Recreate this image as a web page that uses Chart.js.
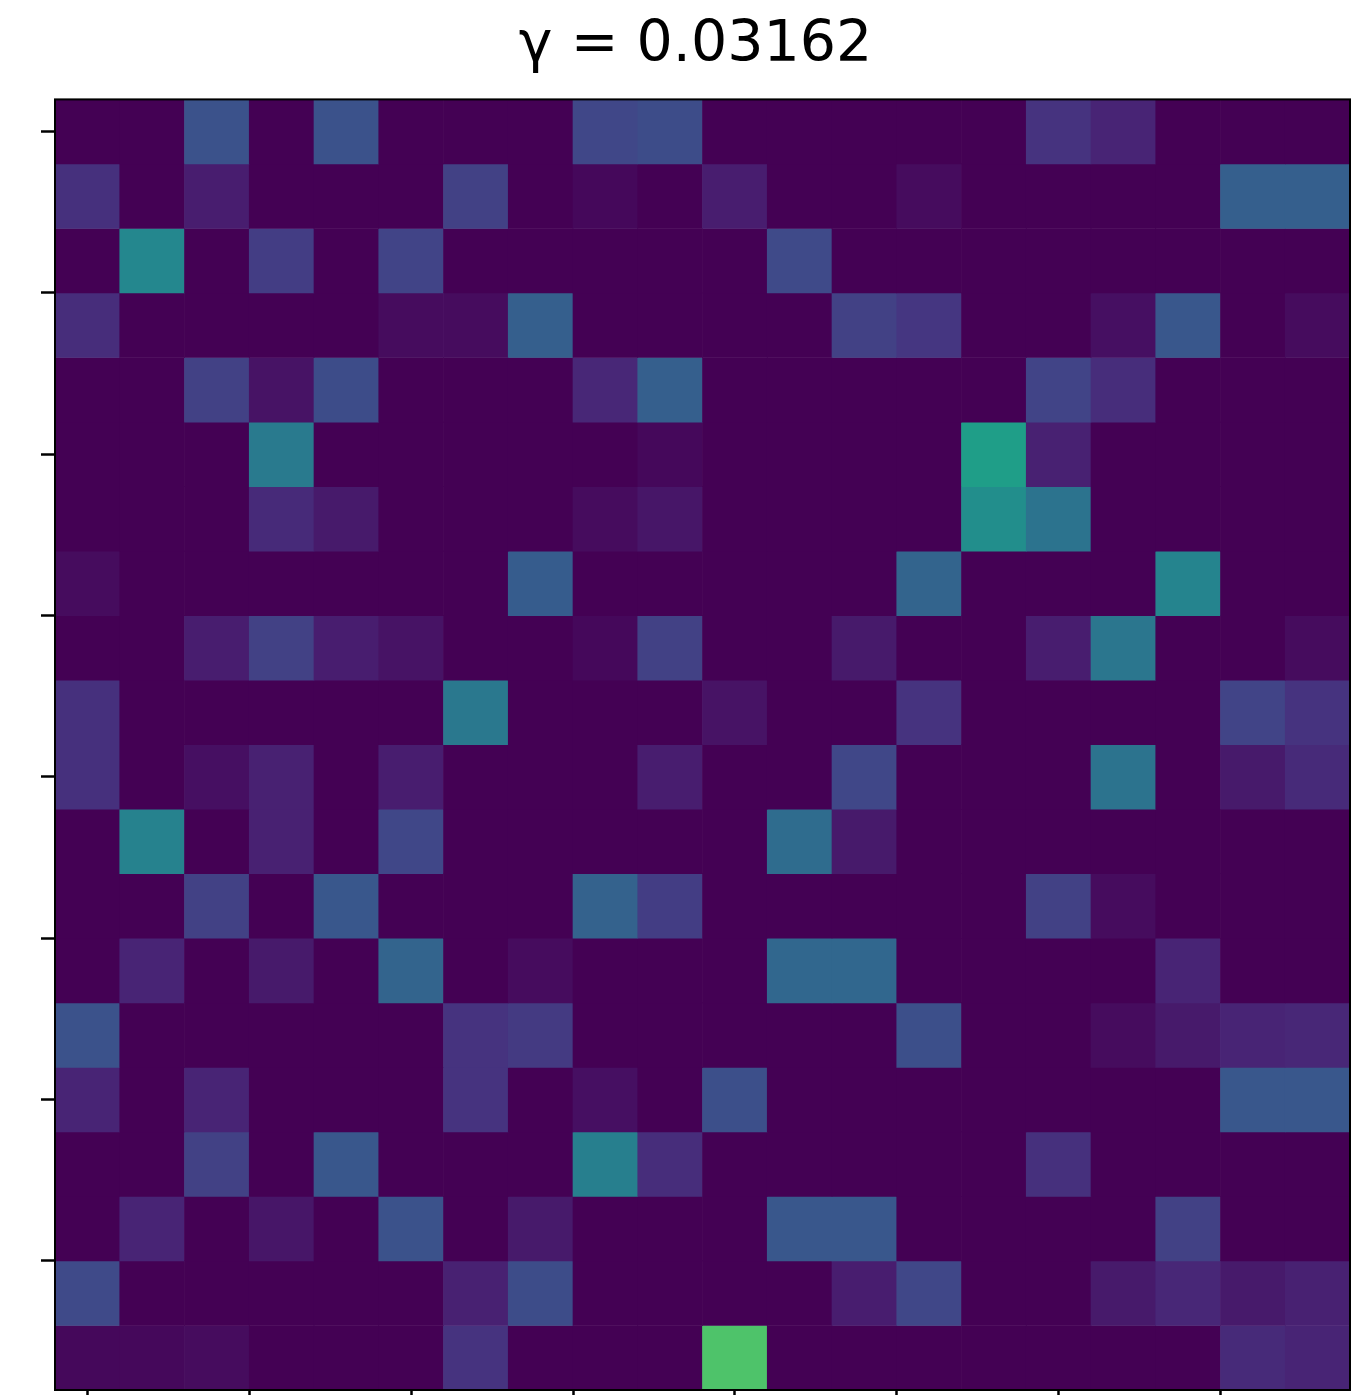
<!DOCTYPE html>
<html>
<head>
<meta charset="utf-8">
<script src="https://cdn.jsdelivr.net/npm/chart.js@4"></script>
<style>
  html, body { margin: 0; padding: 0; background: #fff; overflow: hidden; }
</style>
</head>
<body>
<canvas id="heat" width="1367" height="1395"></canvas>
<script>
const gammaLabel = 'γ = 0.03162';

// positions of the tick marks, in cell units (cell centres sit on integers)
const tickPositions = [0, 2.5, 5, 7.5, 10, 12.5, 15, 17.5];

// colour-scale position (0..1) of each cell, one list per row, top row first
const weights = [
    [0, 0, .25, 0, .25, 0, 0, 0, .21, .23, 0, 0, 0, 0, 0, .15, .10, 0, 0, 0],
    [.14, 0, .08, 0, 0, 0, .19, 0, .02, 0, .08, 0, 0, .03, 0, 0, 0, 0, .30, .30],
    [0, .46, 0, .18, 0, .20, 0, 0, 0, 0, 0, .22, 0, 0, 0, 0, 0, 0, 0, 0],
    [.13, 0, 0, 0, 0, .03, .03, .30, 0, 0, 0, 0, .19, .16, 0, 0, .04, .27, 0, .03],
    [0, 0, .19, .05, .23, 0, 0, 0, .11, .30, 0, 0, 0, 0, 0, .20, .13, 0, 0, 0],
    [0, 0, 0, .41, 0, 0, 0, 0, 0, .02, 0, 0, 0, 0, .56, .09, 0, 0, 0, 0],
    [0, 0, 0, .12, .07, 0, 0, 0, .03, .06, 0, 0, 0, 0, .49, .38, 0, 0, 0, 0],
    [.03, 0, 0, 0, 0, 0, 0, .29, 0, 0, 0, 0, 0, .32, 0, 0, 0, .45, 0, 0],
    [0, 0, .08, .19, .08, .05, 0, 0, .02, .19, 0, 0, .07, 0, 0, .08, .39, 0, 0, .03],
    [.14, 0, 0, 0, 0, 0, .40, 0, 0, 0, .05, 0, 0, .15, 0, 0, 0, 0, .20, .15],
    [.14, 0, .04, .09, 0, .08, 0, 0, 0, .08, 0, 0, .21, 0, 0, 0, .38, 0, .07, .12],
    [0, .44, 0, .09, 0, .21, 0, 0, 0, 0, 0, .35, .07, 0, 0, 0, 0, 0, 0, 0],
    [0, 0, .19, 0, .27, 0, 0, 0, .31, .18, 0, 0, 0, 0, 0, .19, .03, 0, 0, 0],
    [0, .10, 0, .07, 0, .32, 0, .03, 0, 0, 0, .33, .33, 0, 0, 0, 0, .10, 0, 0],
    [.25, 0, 0, 0, 0, 0, .15, .17, 0, 0, 0, 0, 0, .24, 0, 0, .03, .07, .10, .11],
    [.10, 0, .10, 0, 0, 0, .15, 0, .04, 0, .24, 0, 0, 0, 0, 0, 0, 0, .27, .27],
    [0, 0, .19, 0, .27, 0, 0, 0, .43, .13, 0, 0, 0, 0, 0, .14, 0, 0, 0, 0],
    [0, .10, 0, .06, 0, .25, 0, .07, 0, 0, 0, .27, .27, 0, 0, 0, 0, .19, 0, 0],
    [.22, 0, 0, 0, 0, 0, .09, .23, 0, 0, 0, 0, .08, .21, 0, 0, .07, .11, .07, .09],
    [.02, .02, .03, 0, 0, 0, .15, 0, 0, 0, .72, 0, 0, 0, 0, 0, 0, 0, .12, .10]
];

// viridis, sampled every 0.05
const viridisStops = [
    '#440154', '#471365', '#482475', '#46337f', '#414487', '#3b528b', '#355f8d',
    '#2f6c8e', '#2a788e', '#25848e', '#21918c', '#1e9c89', '#22a884', '#2fb47c',
    '#44bf70', '#5ec962', '#7ad151', '#9bd93c', '#bddf26', '#dfe318', '#fde725'
];

function hexToRgb(h) {
    return [1, 3, 5].map(i => parseInt(h.slice(i, i + 2), 16));
}

function viridis(v) {
    const t = Math.min(Math.max(v, 0), 1) * (viridisStops.length - 1);
    const i = Math.min(Math.floor(t), viridisStops.length - 2);
    const f = t - i;
    const a = hexToRgb(viridisStops[i]);
    const b = hexToRgb(viridisStops[i + 1]);
    const c = a.map((x, k) => Math.round(x + (b[k] - x) * f));
    return 'rgb(' + c.join(',') + ')';
}

// black box round the plot area
const frame = {
    id: 'frame',
    afterDatasetsDraw(chart) {
        const { ctx, chartArea: a } = chart;
        ctx.save();
        ctx.strokeStyle = '#000';
        ctx.lineWidth = 2;
        ctx.strokeRect(a.left, a.top, a.right - a.left, a.bottom - a.top);
        ctx.restore();
    }
};

function tickAxis(len) {
    return {
        type: 'linear',
        min: -0.5,
        max: 19.5,
        offset: false,
        border: { display: false },
        grid: {
            offset: false,
            drawOnChartArea: false,
            tickLength: len,
            tickColor: '#000',
            tickWidth: 2.5
        },
        ticks: { display: false },
        afterBuildTicks: function (scale) {
            scale.ticks = tickPositions.map(v => ({ value: v }));
        }
    };
}

const yAxis = tickAxis(14);
yAxis.reverse = true;

new Chart(document.getElementById('heat'), {
    type: 'bar',
    data: {
        datasets: weights.map((row, r) => ({
            data: row.map((v, c) => ({ x: c, y: [r - 0.5, r + 0.5] })),
            backgroundColor: row.map(viridis),
            borderWidth: 0,
            grouped: false,
            barPercentage: 1,
            categoryPercentage: 1
        }))
    },
    options: {
        responsive: false,
        animation: false,
        layout: { padding: { left: 41, right: 17, top: 0, bottom: 0 } },
        plugins: {
            legend: { display: false },
            tooltip: { enabled: false },
            title: {
                display: true,
                text: gammaLabel,
                color: '#000',
                font: { family: 'DejaVu Sans', size: 57, weight: 'normal' },
                padding: { top: 12, bottom: 19 }
            }
        },
        scales: {
            x: tickAxis(5),
            y: yAxis
        }
    },
    plugins: [frame]
});
</script>
</body>
</html>
